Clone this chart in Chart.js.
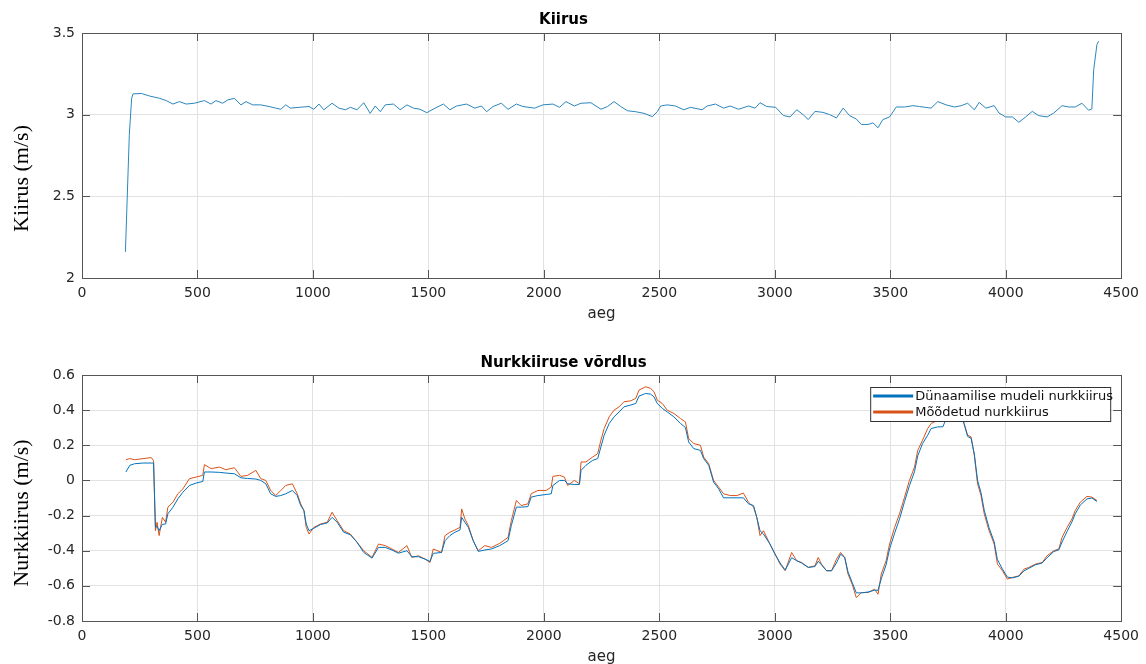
<!DOCTYPE html>
<html>
<head>
<meta charset="utf-8">
<script src="https://cdn.jsdelivr.net/npm/chart.js@4.4.0/dist/chart.umd.min.js"></script>
<style>
  html, body { margin: 0; padding: 0; background: #fff; overflow: hidden; }
  canvas { position: absolute; left: 0; }
  #speedChart { top: 0; }
  #rateChart { top: 330px; }
</style>
</head>
<body>
<canvas id="speedChart" width="1146" height="330"></canvas>
<canvas id="rateChart" width="1146" height="336"></canvas>
<script>
// --- data ---
const xTicks = [0, 500, 1000, 1500, 2000, 2500, 3000, 3500, 4000, 4500];

const speedX = [188, 205, 215, 221, 257, 293, 336, 365, 394, 422, 451, 487, 530, 559, 580, 609, 631, 660, 688, 710,
  739, 774, 810, 839, 861, 882, 903, 940, 983, 1004, 1026, 1047, 1083, 1112, 1141, 1162, 1191, 1220, 1248, 1270,
  1292, 1313, 1349, 1378, 1407, 1435, 1464, 1493, 1529, 1565, 1593, 1622, 1665, 1701, 1730, 1752, 1780, 1816, 1845, 1881,
  1909, 1960, 1996, 2039, 2068, 2096, 2132, 2161, 2204, 2247, 2276, 2304, 2333, 2362, 2398, 2434, 2470, 2491, 2506, 2534,
  2570, 2606, 2635, 2685, 2707, 2743, 2778, 2807, 2843, 2886, 2915, 2936, 2965, 3004, 3037, 3066, 3095, 3123, 3145, 3174,
  3209, 3238, 3267, 3296, 3324, 3353, 3375, 3404, 3425, 3447, 3468, 3497, 3526, 3562, 3598, 3626, 3677, 3706, 3742, 3778,
  3807, 3835, 3864, 3885, 3914, 3950, 3971, 4000, 4029, 4057, 4086, 4115, 4143, 4179, 4208, 4244, 4273, 4301, 4330, 4359,
  4373, 4381, 4395, 4403];
const speed = [2.16, 2.88, 3.10, 3.127, 3.13, 3.114, 3.10, 3.086, 3.065, 3.08, 3.065, 3.07, 3.086, 3.065, 3.086, 3.07, 3.09, 3.10, 3.06, 3.08,
  3.06, 3.06, 3.05, 3.04, 3.033, 3.06, 3.04, 3.045, 3.05, 3.033, 3.065, 3.03, 3.07, 3.04, 3.03, 3.045, 3.03, 3.073, 3.008, 3.053,
  3.018, 3.06, 3.065, 3.03, 3.06, 3.04, 3.033, 3.012, 3.04, 3.065, 3.03, 3.053, 3.065, 3.04, 3.053, 3.018, 3.05, 3.07, 3.033, 3.065,
  3.05, 3.04, 3.06, 3.065, 3.045, 3.08, 3.053, 3.07, 3.073, 3.033, 3.05, 3.08, 3.05, 3.024, 3.018, 3.008, 2.988, 3.018, 3.053, 3.06,
  3.053, 3.03, 3.045, 3.03, 3.053, 3.065, 3.04, 3.053, 3.033, 3.053, 3.04, 3.073, 3.05, 3.045, 2.995, 2.986, 3.03, 3.0, 2.97, 3.02,
  3.014, 3.0, 2.98, 3.04, 2.994, 2.973, 2.94, 2.94, 2.95, 2.92, 2.97, 2.986, 3.047, 3.047, 3.055, 3.05, 3.04, 3.08, 3.06, 3.047,
  3.055, 3.07, 3.03, 3.075, 3.04, 3.055, 3.01, 2.986, 2.986, 2.953, 2.986, 3.02, 2.994, 2.986, 3.01, 3.055, 3.047, 3.047, 3.07, 3.027,
  3.035, 3.275, 3.43, 3.45];

const rateX = [190, 207, 228, 264, 300, 310, 318, 325, 334, 348, 362, 372, 394, 415, 437, 465, 494, 523, 530, 559,
  595, 623, 660, 688, 717, 753, 774, 796, 817, 839, 861, 882, 911, 932, 947, 961, 971, 983, 1004, 1033,
  1062, 1083, 1105, 1133, 1162, 1191, 1220, 1256, 1284, 1313, 1342, 1370, 1407, 1428, 1457, 1486, 1507, 1521, 1557, 1572,
  1593, 1615, 1637, 1644, 1658, 1673, 1694, 1716, 1744, 1773, 1809, 1845, 1859, 1881, 1902, 1931, 1945, 1974, 2010, 2032,
  2039, 2068, 2089, 2103, 2132, 2154, 2161, 2182, 2211, 2233, 2247, 2261, 2283, 2304, 2326, 2347, 2376, 2398, 2412, 2441,
  2462, 2477, 2491, 2513, 2534, 2563, 2592, 2613, 2627, 2649, 2678, 2692, 2714, 2735, 2757, 2778, 2807, 2836, 2864, 2886,
  2908, 2922, 2936, 2951, 2979, 3001, 3023, 3045, 3073, 3095, 3116, 3145, 3174, 3188, 3202, 3224, 3246, 3267, 3285, 3303,
  3317, 3335, 3353, 3375, 3404, 3432, 3447, 3461, 3482, 3497, 3519, 3540, 3562, 3583, 3605, 3619, 3640, 3662, 3677, 3706,
  3728, 3750, 3780, 3805, 3820, 3835, 3850, 3864, 3878, 3893, 3907, 3928, 3950, 3964, 3986, 4007, 4029, 4057, 4079, 4100,
  4129, 4158, 4179, 4208, 4230, 4244, 4266, 4287, 4301, 4323, 4352, 4373, 4395];
const measuredRate = [0.118, 0.124, 0.118, 0.124, 0.130, 0.112, -0.286, -0.238, -0.314, -0.210, -0.238, -0.152, -0.124, -0.076, -0.048, 0.010, 0.019, 0.029, 0.090, 0.067,
  0.076, 0.061, 0.072, 0.023, 0.029, 0.057, 0.010, 0.000, -0.057, -0.086, -0.057, -0.029, -0.019, -0.076, -0.133, -0.171, -0.267, -0.305, -0.267, -0.248,
  -0.238, -0.181, -0.229, -0.286, -0.305, -0.352, -0.400, -0.438, -0.362, -0.371, -0.390, -0.410, -0.371, -0.438, -0.429, -0.448, -0.467, -0.390, -0.410, -0.314,
  -0.295, -0.282, -0.267, -0.162, -0.219, -0.257, -0.343, -0.400, -0.371, -0.381, -0.358, -0.324, -0.229, -0.114, -0.143, -0.133, -0.076, -0.057, -0.057, -0.038,
  0.023, 0.029, 0.019, -0.029, 0.000, -0.019, 0.105, 0.105, 0.133, 0.152, 0.229, 0.295, 0.362, 0.400, 0.419, 0.448, 0.453, 0.467, 0.514, 0.533,
  0.524, 0.505, 0.457, 0.438, 0.400, 0.381, 0.352, 0.333, 0.238, 0.210, 0.200, 0.133, 0.095, 0.000, -0.038, -0.076, -0.086, -0.086, -0.072, -0.124,
  -0.152, -0.210, -0.314, -0.286, -0.362, -0.419, -0.476, -0.514, -0.410, -0.457, -0.467, -0.495, -0.486, -0.438, -0.476, -0.514, -0.514, -0.448, -0.410, -0.438,
  -0.533, -0.590, -0.667, -0.638, -0.638, -0.619, -0.648, -0.533, -0.457, -0.362, -0.267, -0.190, -0.095, 0.000, 0.076, 0.171, 0.229, 0.295, 0.324, 0.343,
  0.380, 0.430, 0.450, 0.400, 0.324, 0.257, 0.248, 0.143, -0.019, -0.086, -0.190, -0.286, -0.362, -0.476, -0.514, -0.562, -0.552, -0.543, -0.505, -0.495,
  -0.476, -0.467, -0.429, -0.400, -0.390, -0.324, -0.267, -0.219, -0.171, -0.124, -0.091, -0.095, -0.114];
const modelRate = [0.048, 0.086, 0.095, 0.099, 0.099, 0.099, -0.267, -0.262, -0.286, -0.250, -0.248, -0.190, -0.152, -0.105, -0.067, -0.029, -0.015, -0.006, 0.048, 0.048,
  0.046, 0.042, 0.038, 0.015, 0.011, 0.008, 0.000, -0.019, -0.076, -0.091, -0.086, -0.076, -0.057, -0.086, -0.143, -0.171, -0.248, -0.286, -0.272, -0.251,
  -0.242, -0.210, -0.238, -0.295, -0.309, -0.352, -0.410, -0.442, -0.381, -0.381, -0.396, -0.414, -0.400, -0.434, -0.434, -0.448, -0.461, -0.415, -0.410, -0.343,
  -0.314, -0.295, -0.282, -0.210, -0.238, -0.267, -0.343, -0.404, -0.396, -0.390, -0.371, -0.343, -0.257, -0.152, -0.152, -0.149, -0.095, -0.086, -0.080, -0.076,
  -0.029, 0.000, 0.000, -0.019, -0.023, -0.023, 0.057, 0.086, 0.114, 0.124, 0.190, 0.257, 0.324, 0.362, 0.390, 0.419, 0.429, 0.438, 0.480, 0.495,
  0.491, 0.476, 0.438, 0.410, 0.390, 0.362, 0.324, 0.301, 0.219, 0.181, 0.171, 0.124, 0.086, -0.010, -0.048, -0.099, -0.099, -0.099, -0.099, -0.133,
  -0.143, -0.210, -0.286, -0.305, -0.362, -0.419, -0.470, -0.510, -0.440, -0.457, -0.470, -0.495, -0.490, -0.460, -0.480, -0.514, -0.514, -0.470, -0.420, -0.440,
  -0.520, -0.580, -0.640, -0.640, -0.635, -0.625, -0.625, -0.560, -0.480, -0.390, -0.300, -0.220, -0.120, -0.030, 0.050, 0.140, 0.210, 0.257, 0.295, 0.305,
  0.305, 0.380, 0.420, 0.380, 0.320, 0.250, 0.240, 0.150, 0.000, -0.070, -0.170, -0.270, -0.350, -0.450, -0.505, -0.550, -0.555, -0.545, -0.515, -0.500,
  -0.480, -0.470, -0.440, -0.405, -0.395, -0.350, -0.290, -0.235, -0.190, -0.140, -0.105, -0.100, -0.120];

const seriesNames = ['Dünaamilise mudeli nurkkiirus', 'Mõõdetud nurkkiirus'];

// --- helpers ---
const pts = (xs, ys) => xs.map((x, i) => ({ x: x, y: ys[i] }));
const fmt = v => String(Math.round(v * 10) / 10);
const tickFont = { family: 'DejaVu Sans', size: 14 };
const labelFont = { family: 'DejaVu Sans', size: 15 };

// MATLAB-like box, inward ticks, legend and y label
const matlabAxes = {
  id: 'matlabAxes',
  afterDatasetsDraw(chart, args, opts) {
    const { ctx, chartArea: a, scales } = chart;
    ctx.save();
    ctx.strokeStyle = '#555';
    ctx.lineWidth = 1;
    ctx.beginPath();
    scales.x.ticks.forEach(t => {
      const px = Math.round(scales.x.getPixelForValue(t.value)) + 0.5;
      ctx.moveTo(px, a.bottom); ctx.lineTo(px, a.bottom - 8);
      ctx.moveTo(px, a.top); ctx.lineTo(px, a.top + 8);
    });
    scales.y.ticks.forEach(t => {
      const py = Math.round(scales.y.getPixelForValue(t.value)) + 0.5;
      ctx.moveTo(a.left, py); ctx.lineTo(a.left + 8, py);
      ctx.moveTo(a.right, py); ctx.lineTo(a.right - 8, py);
    });
    ctx.stroke();
    ctx.strokeRect(Math.round(a.left) + 0.5, Math.round(a.top) + 0.5, Math.round(a.width), Math.round(a.height));

    if (opts.legend) {
      const lx = a.right - 251, ly = a.top + 12, lw = 240, lh = 34;
      ctx.fillStyle = '#fff';
      ctx.fillRect(lx, ly, lw, lh);
      ctx.strokeStyle = '#333';
      ctx.strokeRect(lx + 0.5, ly + 0.5, lw, lh);
      ctx.font = '13px "DejaVu Sans"';
      ctx.textBaseline = 'middle';
      chart.data.datasets.forEach((ds, i) => {
        const cy = ly + 9 + i * 16;
        ctx.strokeStyle = ds.borderColor;
        ctx.lineWidth = 3;
        ctx.beginPath();
        ctx.moveTo(lx + 3, cy); ctx.lineTo(lx + 43, cy);
        ctx.stroke();
        ctx.fillStyle = '#111';
        ctx.fillText(ds.label, lx + 45, cy + 1);
      });
    }
    ctx.restore();
  },
  afterDraw(chart, args, opts) {
    const { ctx, chartArea: a } = chart;
    ctx.save();
    ctx.translate(22, (a.top + a.bottom) / 2 + opts.labelShift);
    ctx.rotate(-Math.PI / 2);
    ctx.font = '22px "Liberation Serif"';
    ctx.fillStyle = '#000';
    ctx.textAlign = 'center';
    ctx.textBaseline = 'middle';
    ctx.fillText(opts.yLabel, 0, 0);
    ctx.restore();
  }
};

function axesOptions(title, titlePad, yMin, yMax, yStep, xHeight, xTitlePad, yLabel, labelShift, legend) {
  return {
    responsive: false,
    animation: false,
    layout: { padding: { left: 0, right: 19, top: 0, bottom: 0 } },
    plugins: {
      legend: { display: false },
      tooltip: { enabled: false },
      title: {
        display: true, text: title, color: '#000',
        font: { family: 'DejaVu Sans', size: 15, weight: 'bold' },
        padding: titlePad
      },
      matlabAxes: { yLabel: yLabel, labelShift: labelShift, legend: legend }
    },
    scales: {
      x: {
        type: 'linear', min: 0, max: 4500,
        afterBuildTicks: s => { s.ticks = xTicks.map(v => ({ value: v })); },
        afterFit: s => { s.height = xHeight; },
        grid: { color: '#e2e2e2', drawTicks: false },
        border: { display: false },
        ticks: { padding: 7, color: '#262626', font: tickFont, callback: v => String(v), maxRotation: 0 },
        title: { display: true, text: 'aeg', color: '#262626', font: labelFont, padding: { top: 0, bottom: xTitlePad } }
      },
      y: {
        min: yMin, max: yMax,
        afterFit: s => { s.width = 82; },
        grid: { color: '#e2e2e2', drawTicks: false },
        border: { display: false },
        ticks: { stepSize: yStep, padding: 7, color: '#262626', font: tickFont, callback: fmt }
      }
    }
  };
}

new Chart(document.getElementById('speedChart'), {
  type: 'line',
  data: {
    datasets: [{
      label: 'Kiirus',
      data: pts(speedX, speed),
      borderColor: '#2b86bd', borderWidth: 1, pointRadius: 0, tension: 0
    }]
  },
  options: axesOptions('Kiirus', { top: 11.5, bottom: 3.5 }, 2, 3.5, 0.5, 52, 7, 'Kiirus (m/s)', 23, false),
  plugins: [matlabAxes]
});

new Chart(document.getElementById('rateChart'), {
  type: 'line',
  data: {
    datasets: [
      { label: seriesNames[0], data: pts(rateX, modelRate), borderColor: '#0072BD', borderWidth: 1, pointRadius: 0, tension: 0 },
      { label: seriesNames[1], data: pts(rateX, measuredRate), borderColor: '#D95319', borderWidth: 1, pointRadius: 0, tension: 0 }
    ]
  },
  options: axesOptions('Nurkkiiruse võrdlus', { top: 23.7, bottom: 3.3 }, -0.8, 0.6, 0.2, 45, 0, 'Nurkkiirus (m/s)', 15, true),
  plugins: [matlabAxes]
});
</script>
</body>
</html>
